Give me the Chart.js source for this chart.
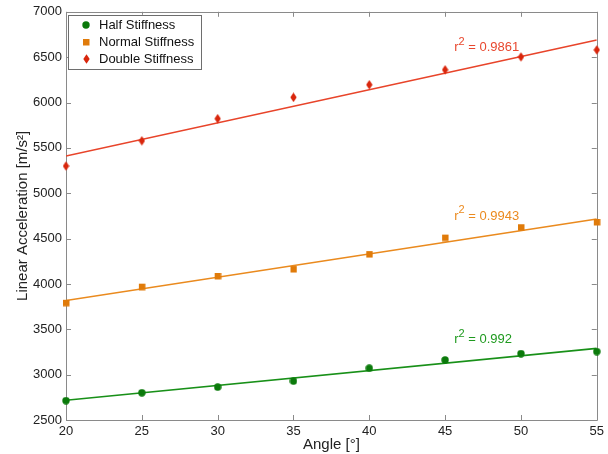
<!DOCTYPE html>
<html>
<head>
<meta charset="utf-8">
<script src="https://cdn.jsdelivr.net/npm/chart.js@4.4.1/dist/chart.umd.min.js"></script>
<style>
  html, body { margin: 0; padding: 0; background: #ffffff; }
  #wrap { width: 608px; height: 454px; position: relative; }
</style>
</head>
<body>
<div id="wrap"><canvas id="c" width="608" height="454"></canvas></div>
<script>
// ---- Data ----
const angles = [20, 25, 30, 35, 40, 45, 50, 55];
const halfStiffness   = [2713, 2800, 2863, 2929, 3071, 3162, 3232, 3254];
const normalStiffness = [3792, 3970, 4088, 4164, 4329, 4511, 4625, 4683];
const doubleStiffness = [5300, 5578, 5822, 6057, 6196, 6361, 6503, 6580];
// fitted line end points (at angle 20 and 55)
const fitAngles  = [20, 55];
const halfFit    = [2717, 3290];
const normalFit  = [3817, 4716];
const doubleFit  = [5410, 6690];
const seriesNames = ['Half Stiffness', 'Normal Stiffness', 'Double Stiffness'];
const r2Labels = ['0.992', '0.9943', '0.9861'];
const xTicks = [20, 25, 30, 35, 40, 45, 50, 55];
const yTicks = [2500, 3000, 3500, 4000, 4500, 5000, 5500, 6000, 6500, 7000];

// ---- Styles ----
const markerColors = ['#0b7a0b', '#e07b0a', '#d9260c'];
const lineColors   = ['#189018', '#ea8a1e', '#e8442a'];
const textColors   = ['#1f9a1f', '#eb8a1f', '#e8472e'];
const axisColor = '#8a8a8a';
const FONT = '"Liberation Sans", Arial, sans-serif';

// marker images (MATLAB-like: round, square, tall diamond)
function makeMarker(kind, color) {
  const c = document.createElement('canvas');
  const w = kind === 'diamond' ? 7 : 8, h = kind === 'diamond' ? 10 : 8;
  c.width = w; c.height = h;
  const g = c.getContext('2d');
  g.fillStyle = color;
  g.beginPath();
  if (kind === 'circle') {
    g.arc(4, 4, 3.7, 0, Math.PI * 2);
  } else if (kind === 'square') {
    g.rect(1, 1, 6.5, 6.5);
  } else {
    g.moveTo(3.5, 0.3); g.lineTo(6.7, 5); g.lineTo(3.5, 9.7); g.lineTo(0.3, 5); g.closePath();
  }
  g.fill();
  return c;
}
const markerKinds = ['circle', 'square', 'diamond'];
const markerImgs = markerKinds.map((k, i) => makeMarker(k, markerColors[i]));

const pts = (xs, ys) => xs.map((x, i) => ({ x: x, y: ys[i] }));
const seriesData = [halfStiffness, normalStiffness, doubleStiffness];
const fitData = [halfFit, normalFit, doubleFit];

const datasets = [];
for (let i = 0; i < 3; i++) {
  datasets.push({
    label: seriesNames[i] + ' fit',
    data: pts(fitAngles, fitData[i]),
    showLine: true,
    borderColor: lineColors[i],
    borderWidth: 1.6,
    pointRadius: 0,
    fill: false,
    order: 2
  });
}
for (let i = 0; i < 3; i++) {
  datasets.push({
    label: seriesNames[i],
    data: pts(angles, seriesData[i]),
    showLine: false,
    pointStyle: markerImgs[i],
    pointRadius: 4,
    backgroundColor: markerColors[i],
    borderColor: markerColors[i],
    order: 1,
    clip: false
  });
}

// Annotation anchors (data coordinates of the left / middle of each r² label)
const r2Anchor = [
  { x: 45.6, y: 3405 },
  { x: 45.6, y: 4770 },
  { x: 45.6, y: 6625 }
];

const framePlugin = {
  id: 'frame',
  beforeDatasetsDraw(chart) {
    const { ctx, chartArea: a, scales } = chart;
    ctx.save();
    ctx.strokeStyle = axisColor;
    ctx.lineWidth = 1;
    ctx.beginPath();
    ctx.rect(Math.round(a.left) + 0.5, Math.round(a.top) + 0.5,
             Math.round(a.right - a.left), Math.round(a.bottom - a.top));
    ctx.stroke();
    const tl = 5;
    ctx.beginPath();
    xTicks.forEach(v => {
      const px = Math.round(scales.x.getPixelForValue(v)) + 0.5;
      ctx.moveTo(px, a.bottom); ctx.lineTo(px, a.bottom - tl);
      ctx.moveTo(px, a.top); ctx.lineTo(px, a.top + tl);
    });
    yTicks.forEach(v => {
      const py = Math.round(scales.y.getPixelForValue(v)) + 0.5;
      ctx.moveTo(a.left, py); ctx.lineTo(a.left + tl, py);
      ctx.moveTo(a.right, py); ctx.lineTo(a.right - tl, py);
    });
    ctx.stroke();
    ctx.restore();
  }
};

const overlayPlugin = {
  id: 'overlay',
  afterDraw(chart) {
    const { ctx, chartArea: a, scales } = chart;
    ctx.save();
    // r² labels
    for (let i = 0; i < 3; i++) {
      let x = scales.x.getPixelForValue(r2Anchor[i].x);
      const y = scales.y.getPixelForValue(r2Anchor[i].y);
      ctx.fillStyle = textColors[i];
      ctx.textBaseline = 'middle';
      ctx.textAlign = 'left';
      ctx.font = '13px ' + FONT;
      ctx.fillText('r', x, y + 2);
      x += ctx.measureText('r').width;
      ctx.font = '11px ' + FONT;
      ctx.fillText('2', x, y - 4);
      x += ctx.measureText('2').width;
      ctx.font = '13px ' + FONT;
      ctx.fillText(' = ' + r2Labels[i], x, y + 2);
    }
    // legend box
    const lx = a.left + 2, ly = a.top + 3, lw = 133, lh = 54;
    ctx.fillStyle = '#ffffff';
    ctx.fillRect(lx, ly, lw, lh);
    ctx.strokeStyle = '#6e6e6e';
    ctx.lineWidth = 1;
    ctx.strokeRect(Math.round(lx) + 0.5, Math.round(ly) + 0.5, lw, lh);
    for (let i = 0; i < 3; i++) {
      const ry = ly + 10.5 + i * 16.8;
      const img = markerImgs[i];
      ctx.drawImage(img, Math.round(lx + 18 - img.width / 2), Math.round(ry - img.height / 2));
      ctx.fillStyle = '#111111';
      ctx.font = '13px ' + FONT;
      ctx.textBaseline = 'middle';
      ctx.textAlign = 'left';
      ctx.fillText(seriesNames[i], lx + 31, ry + 0.5);
    }
    ctx.restore();
  }
};

new Chart(document.getElementById('c'), {
  type: 'scatter',
  data: { datasets: datasets },
  plugins: [framePlugin, overlayPlugin],
  options: {
    responsive: false,
    animation: false,
    devicePixelRatio: 1,
    layout: { padding: { top: 10, right: 9, left: 0, bottom: 0 } },
    plugins: { legend: { display: false }, tooltip: { enabled: false } },
    scales: {
      x: {
        type: 'linear', min: 20, max: 55,
        afterBuildTicks: s => { s.ticks = xTicks.map(v => ({ value: v })); },
        afterFit: s => { s.height = 34; },
        grid: { display: false, drawTicks: false },
        border: { display: false },
        ticks: { color: '#222222', font: { family: FONT, size: 13 }, padding: 4, maxRotation: 0, autoSkip: false,
                 callback: v => String(v) },
        title: { display: true, text: 'Angle [°]', color: '#222222', font: { family: FONT, size: 15 }, padding: { top: 0, bottom: 0 } }
      },
      y: {
        type: 'linear', min: 2500, max: 7000,
        afterBuildTicks: s => { s.ticks = yTicks.map(v => ({ value: v })); },
        afterFit: s => { s.width = 66; },
        grid: { display: false, drawTicks: false },
        border: { display: false },
        ticks: { color: '#222222', font: { family: FONT, size: 13 }, padding: 4, autoSkip: false,
                 callback: v => String(v) },
        title: { display: true, text: 'Linear Acceleration [m/s²]', color: '#222222', font: { family: FONT, size: 15 }, padding: { top: 14, bottom: 0 } }
      }
    }
  }
});
</script>
</body>
</html>
